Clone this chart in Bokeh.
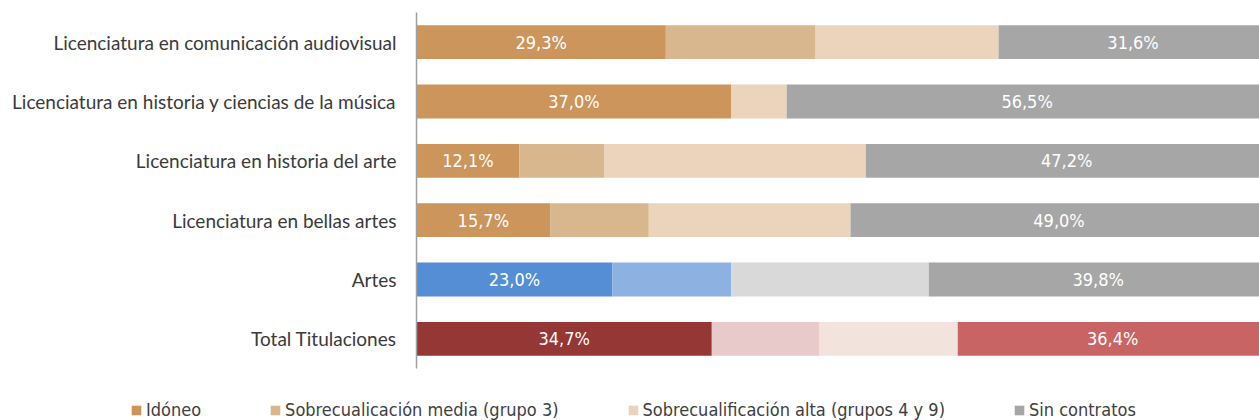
from bokeh.plotting import figure
from bokeh.models import ColumnDataSource, Range1d, FactorRange, Legend, LegendItem
from bokeh.core.properties import value
from bokeh.embed import file_html
from bokeh.resources import INLINE
import pandas as pd

categories = [
    "Licenciatura en comunicación audiovisual",
    "Licenciatura en historia y ciencias de la música",
    "Licenciatura en historia del arte",
    "Licenciatura en bellas artes",
    "Artes",
    "Total Titulaciones",
]
series_names = [
    "Idóneo",
    "Sobrecualicación media (grupo 3)",
    "Sobrecualificación alta (grupos 4 y 9)",
    "Sin contratos",
]
idoneo = [29.3, 37.0, 12.1, 15.7, 23.0, 34.7]
media = [17.6, 0.0, 10.0, 11.6, 14.0, 12.6]
alta = [21.5, 6.5, 30.7, 23.7, 23.2, 16.3]
sin_contratos = [31.6, 56.5, 47.2, 49.0, 39.8, 36.4]

brown = ["#CC955B", "#D9B78E", "#EBD4BB", "#A6A6A6"]
blue = ["#558ED5", "#8DB1E0", "#D9D9D9", "#A6A6A6"]
red = ["#953735", "#E8CACB", "#F2E4DC", "#C86464"]
row_palettes = [brown, brown, brown, brown, blue, red]

LABEL_FONT = "Lato"
NARROW = "DejaVu Sans Condensed"

series = [idoneo, media, alta, sin_contratos]
df = pd.DataFrame({"cat": categories})
left = [0.0] * len(categories)
for i, s in enumerate(series):
    df[f"l{i}"] = left
    right = [a + b for a, b in zip(left, s)]
    df[f"r{i}"] = right
    df[f"m{i}"] = [(a + b) / 2 for a, b in zip(left, right)]
    df[f"t{i}"] = [f"{v:.1f}".replace(".", ",") + "%" for v in s]
    df[f"c{i}"] = [pal[i] for pal in row_palettes]
    left = right
src = ColumnDataSource(df)

p = figure(
    width=1259, height=380,
    y_range=FactorRange(factors=list(reversed(categories))),
    x_range=Range1d(0, 99.06),
    output_backend="svg", toolbar_location=None,
    min_border_left=416, min_border_right=0, min_border_top=12, min_border_bottom=12,
)
p.outline_line_color = None
p.xgrid.visible = False
p.ygrid.visible = False
p.xaxis.visible = False
p.yaxis.axis_line_color = "#A0A0A0"
p.yaxis.axis_line_width = 1.5
p.yaxis.major_tick_line_color = None
p.yaxis.minor_tick_line_color = None
p.yaxis.major_label_standoff = 14
p.yaxis.major_label_text_font = LABEL_FONT
p.yaxis.major_label_text_font_size = "19px"
p.yaxis.major_label_text_color = "#3A3A3A"
p.y_range.range_padding = 0

for i in range(4):
    p.hbar(y="cat", left=f"l{i}", right=f"r{i}", height=0.57,
           fill_color=f"c{i}", line_color=None, source=src)

for i in (0, 3):
    p.text(x=f"m{i}", y="cat", text=f"t{i}", source=src,
           text_align="center", text_baseline="middle",
           text_color="white", text_font=value(NARROW), text_font_size="18px")

# legend strip below the chart (separate root so its frame spans the full width)
lf = figure(width=1259, height=40, output_backend="svg", toolbar_location=None,
            x_range=Range1d(0, 1), y_range=FactorRange(factors=categories),
            min_border=0)
lf.outline_line_color = None
lf.axis.visible = False
lf.grid.visible = False
leg_renderers = []
for i in range(4):
    r = lf.hbar(y="cat", left=f"l{i}", right=f"r{i}", height=0.57,
                fill_color=f"c{i}", line_color=None, source=src, visible=False)
    leg_renderers.append(r)
items = [LegendItem(label=series_names[i], renderers=[leg_renderers[i]], index=0) for i in range(4)]
legend = Legend(items=items, orientation="horizontal", location=(130, 0),
                border_line_color=None, background_fill_alpha=0,
                padding=0, margin=0, spacing=68,
                glyph_width=12, glyph_height=12, label_standoff=4,
                inactive_fill_alpha=0,
                label_text_font=NARROW, label_text_font_size="18px",
                label_text_color="#404040", label_height=20)
lf.add_layout(legend, "center")

open("out.html", "w").write(file_html([p, lf], INLINE))
